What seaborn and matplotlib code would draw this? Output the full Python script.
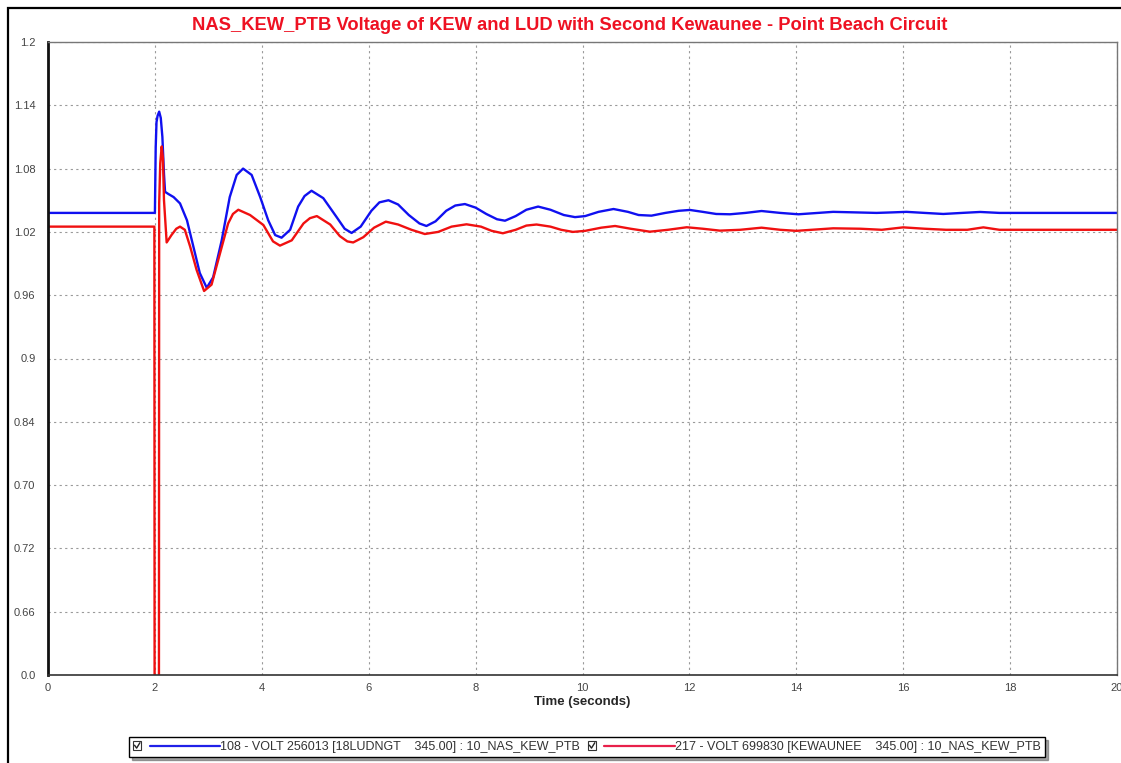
import matplotlib
matplotlib.use("Agg")
import matplotlib.pyplot as plt
import seaborn as sns
import pandas as pd
from matplotlib.lines import Line2D
from matplotlib.patches import Rectangle
from matplotlib.legend_handler import HandlerBase

# ---------------- data ----------------
title = "NAS_KEW_PTB Voltage of KEW and LUD with Second Kewaunee - Point Beach Circuit"
x_label = "Time (seconds)"
series_names = ["108 - VOLT 256013 [18LUDNGT    345.00] : 10_NAS_KEW_PTB",
                "217 - VOLT 699830 [KEWAUNEE    345.00] : 10_NAS_KEW_PTB"]

blue_t = [0, 2.0, 2.015, 2.03, 2.05, 2.08, 2.11, 2.14, 2.17, 2.19, 2.25, 2.35, 2.47, 2.6, 2.72,
          2.84, 2.97, 3.09, 3.25, 3.40, 3.53, 3.65, 3.81, 3.97, 4.12, 4.25, 4.37, 4.53, 4.68,
          4.80, 4.93, 5.15, 5.40, 5.55, 5.68, 5.85, 6.05, 6.2, 6.37, 6.55, 6.75, 6.95, 7.08,
          7.25, 7.45, 7.62, 7.80, 8.0, 8.2, 8.4, 8.55, 8.75, 8.95, 9.17, 9.4, 9.65, 9.86,
          10.05, 10.3, 10.58, 10.85, 11.05, 11.29, 11.55, 11.8, 12.01, 12.25, 12.5, 12.76,
          13.05, 13.35, 13.7, 14.04, 14.35, 14.69, 15.1, 15.5, 15.8, 16.06, 16.4, 16.75,
          17.1, 17.44, 17.8, 20.0]
blue_v = [1.038, 1.038, 1.100, 1.124, 1.130, 1.134, 1.128, 1.110, 1.075, 1.058, 1.056, 1.053,
          1.047, 1.031, 1.006, 0.981, 0.967, 0.977, 1.012, 1.053, 1.074, 1.080, 1.074, 1.053,
          1.031, 1.017, 1.0145, 1.022, 1.044, 1.054, 1.059, 1.052, 1.034, 1.023, 1.019, 1.025,
          1.040, 1.048, 1.050, 1.046, 1.036, 1.028, 1.0256, 1.030, 1.040, 1.045, 1.0464, 1.043,
          1.037, 1.032, 1.0306, 1.035, 1.041, 1.044, 1.041, 1.036, 1.034, 1.035, 1.039, 1.0417,
          1.039, 1.036, 1.0354, 1.038, 1.040, 1.0408, 1.039, 1.037, 1.0367, 1.038, 1.0398,
          1.038, 1.0367, 1.0378, 1.039, 1.0385, 1.038, 1.0385, 1.039, 1.038, 1.037, 1.038,
          1.0389, 1.038, 1.038]

red_t = [0, 1.99, 2.0, 2.07, 2.08, 2.10, 2.127, 2.15, 2.17, 2.22, 2.31, 2.40, 2.47, 2.56, 2.66,
         2.78, 2.92, 3.06, 3.22, 3.37, 3.46, 3.56, 3.78, 4.03, 4.21, 4.34, 4.56, 4.78, 4.90,
         5.03, 5.28, 5.46, 5.60, 5.71, 5.9, 6.1, 6.32, 6.55, 6.8, 7.05, 7.3, 7.55, 7.83, 8.1,
         8.3, 8.51, 8.75, 8.95, 9.14, 9.4, 9.6, 9.82, 10.05, 10.35, 10.61, 10.9, 11.26, 11.6,
         11.95, 12.25, 12.57, 12.95, 13.35, 13.7, 14.0, 14.69, 15.2, 15.6, 16.0, 16.4, 16.8,
         17.2, 17.5, 17.8, 20.0]
red_v = [1.025, 1.025, 0.0, 0.0, 1.047, 1.085, 1.101, 1.090, 1.050, 1.010, 1.017, 1.023, 1.025,
         1.022, 1.006, 0.984, 0.964, 0.970, 1.000, 1.028, 1.037, 1.041, 1.036, 1.0265, 1.011,
         1.007, 1.012, 1.028, 1.033, 1.035, 1.027, 1.016, 1.011, 1.010, 1.015, 1.024, 1.0297,
         1.027, 1.022, 1.018, 1.020, 1.025, 1.0272, 1.025, 1.021, 1.0187, 1.022, 1.026, 1.027,
         1.025, 1.022, 1.020, 1.021, 1.024, 1.0256, 1.023, 1.0202, 1.022, 1.0244, 1.023, 1.0212,
         1.022, 1.024, 1.022, 1.021, 1.0234, 1.023, 1.022, 1.0243, 1.023, 1.022, 1.022, 1.0243,
         1.022, 1.022]

x_ticks = [0, 2, 4, 6, 8, 10, 12, 14, 16, 18, 20]
x_tick_labels = ["0", "2", "4", "6", "8", "10", "12", "14", "16", "18", "20"]
y_ticks = [0.60, 0.66, 0.72, 0.78, 0.84, 0.90, 0.96, 1.02, 1.08, 1.14, 1.20]
y_tick_labels = ["0.0", "0.66", "0.72", "0.70", "0.84", "0.9", "0.96", "1.02", "1.08", "1.14", "1.2"]

# ---------------- figure ----------------
sns.set_theme(style="white")
plt.rcParams["font.family"] = ["Liberation Sans", "DejaVu Sans"]

df = pd.concat([
    pd.DataFrame({"t": blue_t, "v": blue_v, "s": series_names[0]}),
    pd.DataFrame({"t": red_t, "v": red_v, "s": series_names[1]}),
], ignore_index=True)

colors = ["#1010f0", "#f01010"]
fig = plt.figure(figsize=(11.21, 7.63), dpi=100)
ax = fig.add_axes([48 / 1121, 1 - 675 / 763, (1117 - 48) / 1121, (675 - 42) / 763])

sns.lineplot(data=df, x="t", y="v", hue="s", palette=colors, estimator=None, sort=False,
             linewidth=1.7, legend=False, ax=ax)
for ln in ax.get_lines():
    ln.set_solid_joinstyle("round")

ax.set_xlim(0, 20)
ax.set_ylim(0.6, 1.2)
ax.set_xticks(x_ticks)
ax.set_xticklabels(x_tick_labels)
ax.set_yticks(y_ticks)
ax.set_yticklabels(y_tick_labels)
ax.tick_params(axis="both", length=0, labelsize=8, labelcolor="#444444")
ax.tick_params(axis="y", pad=9)
ax.tick_params(axis="x", pad=6)
ax.grid(True, color="#9a9a9a", linestyle=(0, (2, 3)), linewidth=0.8)
ax.set_xlabel(x_label, fontsize=9.5, fontweight="bold", labelpad=2)
ax.set_ylabel("")
for side in ["top", "right"]:
    ax.spines[side].set_color("#777777")
    ax.spines[side].set_linewidth(1.0)
ax.spines["left"].set_color("#111111")
ax.spines["left"].set_linewidth(2.0)
ax.spines["bottom"].set_color("#333333")
ax.spines["bottom"].set_linewidth(1.2)

fig.text(0.508, 1 - 25 / 763, title, color="#ee1122", fontsize=13.2, fontweight="bold",
         ha="center", va="center")

# outer frame
fig.patches.append(Rectangle((8 / 1121, -0.05), 1.2, 1 - 8 / 763 + 0.05, transform=fig.transFigure,
                             fill=False, edgecolor="black", linewidth=1.6, clip_on=False))


class CheckLine(HandlerBase):
    def create_artists(self, legend, orig_handle, xdescent, ydescent, width, height, fontsize, trans):
        s = height * 0.95
        y0 = (height - s) / 2 - ydescent
        box = Rectangle((-xdescent, y0), s, s, facecolor="white", edgecolor="#333333",
                        linewidth=0.8, transform=trans)
        chk = Line2D([-xdescent + 0.2 * s, -xdescent + 0.45 * s, -xdescent + 0.85 * s],
                     [y0 + 0.55 * s, y0 + 0.2 * s, y0 + 0.85 * s], color="#222222",
                     linewidth=1.0, transform=trans)
        ln = Line2D([-xdescent + s + 6, width - xdescent], [height / 2 - ydescent] * 2,
                    color=orig_handle.get_color(), linewidth=1.6, transform=trans)
        return [box, chk, ln]


handles = [Line2D([], [], color=c) for c in ["#2020e8", "#e8204a"]]
leg = fig.legend(handles, series_names, ncol=2, loc="center", bbox_to_anchor=(587 / 1121, 1 - 747 / 763),
                 handler_map={Line2D: CheckLine()}, handlelength=7.0, handletextpad=0.0,
                 columnspacing=0.6, fontsize=9, frameon=True, fancybox=False, shadow=True,
                 borderpad=0.3, edgecolor="black")
leg.get_frame().set_linewidth(1.0)
for t in leg.get_texts():
    t.set_color("#333333")

fig.savefig("out.png", dpi=100, facecolor="white")
